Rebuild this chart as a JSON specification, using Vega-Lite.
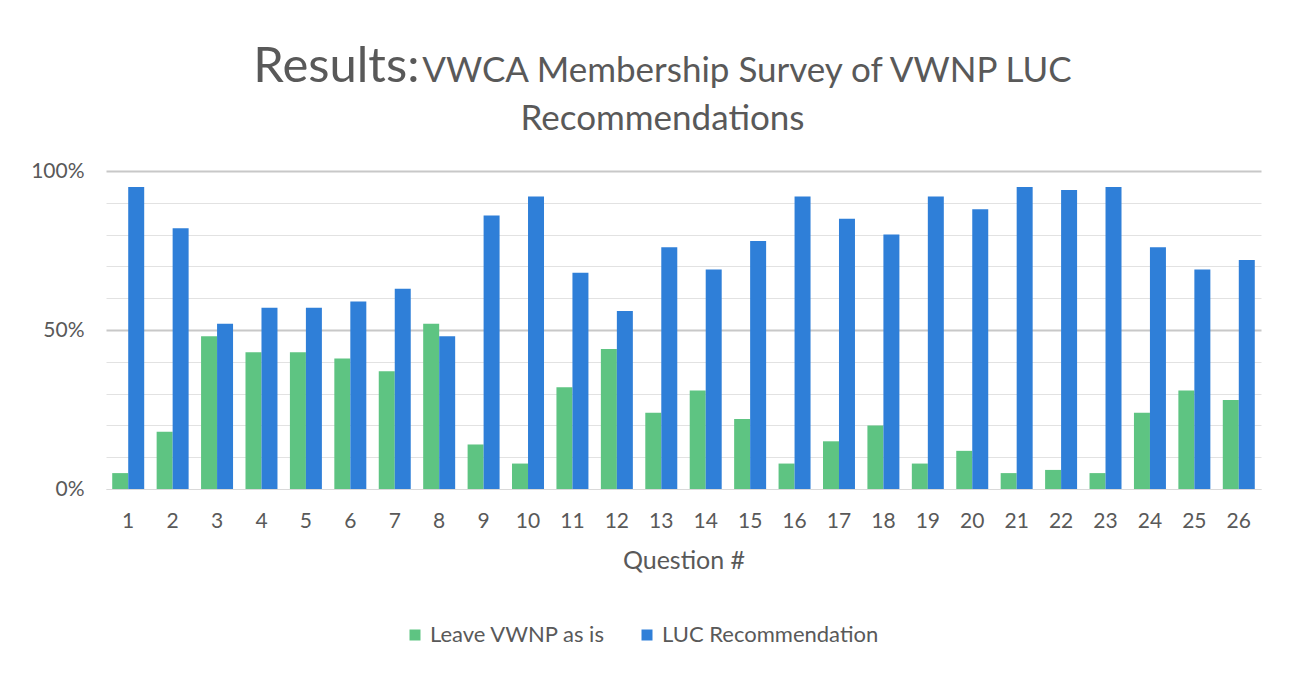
{
  "$schema": "https://vega.github.io/schema/vega-lite/v6.json",
  "autosize": "none",
  "width": 1155,
  "height": 318,
  "padding": {"left": 106, "top": 171, "right": 31, "bottom": 184},
  "background": "white",
  "title": {
    "text": "Results:\u00a0\u00a0\u00a0\u00a0\u00a0\u00a0\u00a0\u00a0\u00a0\u00a0\u00a0\u00a0\u00a0\u00a0\u00a0\u00a0\u00a0\u00a0\u00a0\u00a0\u00a0\u00a0\u00a0\u00a0\u00a0\u00a0\u00a0\u00a0\u00a0\u00a0\u00a0\u00a0\u00a0\u00a0\u00a0\u00a0\u00a0\u00a0\u00a0\u00a0\u00a0\u00a0\u00a0\u00a0\u00a0\u00a0\u00a0\u00a0\u00a0\u00a0\u00a0\u00a0\u200b",
    "subtitle": ["\u200b\u00a0\u00a0\u00a0\u00a0\u00a0\u00a0\u00a0\u00a0\u00a0\u00a0\u00a0\u00a0\u00a0\u00a0\u00a0\u00a0\u00a0\u00a0\u00a0VWCA Membership Survey of VWNP LUC", "Recommendations"],
    "anchor": "middle",
    "dx": -21,
    "font": "Lato",
    "fontSize": 49,
    "fontWeight": "normal",
    "color": "#595959",
    "subtitleFont": "Lato",
    "subtitleFontSize": 35,
    "subtitleColor": "#595959",
    "subtitleLineHeight": 48,
    "subtitlePadding": -38,
    "offset": 23
  },
  "data": {
    "values": [
      {"q": 1, "series": "Leave VWNP as is", "v": 0.05},
      {"q": 2, "series": "Leave VWNP as is", "v": 0.18},
      {"q": 3, "series": "Leave VWNP as is", "v": 0.48},
      {"q": 4, "series": "Leave VWNP as is", "v": 0.43},
      {"q": 5, "series": "Leave VWNP as is", "v": 0.43},
      {"q": 6, "series": "Leave VWNP as is", "v": 0.41},
      {"q": 7, "series": "Leave VWNP as is", "v": 0.37},
      {"q": 8, "series": "Leave VWNP as is", "v": 0.52},
      {"q": 9, "series": "Leave VWNP as is", "v": 0.14},
      {"q": 10, "series": "Leave VWNP as is", "v": 0.08},
      {"q": 11, "series": "Leave VWNP as is", "v": 0.32},
      {"q": 12, "series": "Leave VWNP as is", "v": 0.44},
      {"q": 13, "series": "Leave VWNP as is", "v": 0.24},
      {"q": 14, "series": "Leave VWNP as is", "v": 0.31},
      {"q": 15, "series": "Leave VWNP as is", "v": 0.22},
      {"q": 16, "series": "Leave VWNP as is", "v": 0.08},
      {"q": 17, "series": "Leave VWNP as is", "v": 0.15},
      {"q": 18, "series": "Leave VWNP as is", "v": 0.20},
      {"q": 19, "series": "Leave VWNP as is", "v": 0.08},
      {"q": 20, "series": "Leave VWNP as is", "v": 0.12},
      {"q": 21, "series": "Leave VWNP as is", "v": 0.05},
      {"q": 22, "series": "Leave VWNP as is", "v": 0.06},
      {"q": 23, "series": "Leave VWNP as is", "v": 0.05},
      {"q": 24, "series": "Leave VWNP as is", "v": 0.24},
      {"q": 25, "series": "Leave VWNP as is", "v": 0.31},
      {"q": 26, "series": "Leave VWNP as is", "v": 0.28},
      {"q": 1, "series": "LUC Recommendation", "v": 0.95},
      {"q": 2, "series": "LUC Recommendation", "v": 0.82},
      {"q": 3, "series": "LUC Recommendation", "v": 0.52},
      {"q": 4, "series": "LUC Recommendation", "v": 0.57},
      {"q": 5, "series": "LUC Recommendation", "v": 0.57},
      {"q": 6, "series": "LUC Recommendation", "v": 0.59},
      {"q": 7, "series": "LUC Recommendation", "v": 0.63},
      {"q": 8, "series": "LUC Recommendation", "v": 0.48},
      {"q": 9, "series": "LUC Recommendation", "v": 0.86},
      {"q": 10, "series": "LUC Recommendation", "v": 0.92},
      {"q": 11, "series": "LUC Recommendation", "v": 0.68},
      {"q": 12, "series": "LUC Recommendation", "v": 0.56},
      {"q": 13, "series": "LUC Recommendation", "v": 0.76},
      {"q": 14, "series": "LUC Recommendation", "v": 0.69},
      {"q": 15, "series": "LUC Recommendation", "v": 0.78},
      {"q": 16, "series": "LUC Recommendation", "v": 0.92},
      {"q": 17, "series": "LUC Recommendation", "v": 0.85},
      {"q": 18, "series": "LUC Recommendation", "v": 0.80},
      {"q": 19, "series": "LUC Recommendation", "v": 0.92},
      {"q": 20, "series": "LUC Recommendation", "v": 0.88},
      {"q": 21, "series": "LUC Recommendation", "v": 0.95},
      {"q": 22, "series": "LUC Recommendation", "v": 0.94},
      {"q": 23, "series": "LUC Recommendation", "v": 0.95},
      {"q": 24, "series": "LUC Recommendation", "v": 0.76},
      {"q": 25, "series": "LUC Recommendation", "v": 0.69},
      {"q": 26, "series": "LUC Recommendation", "v": 0.72}
    ]
  },
  "mark": {"type": "bar"},
  "encoding": {
    "x": {
      "field": "q",
      "type": "ordinal",
      "title": "Question #",
      "scale": {"paddingInner": 0.28, "paddingOuter": 0.14},
      "axis": {
        "labelAngle": 0,
        "labelFont": "Lato",
        "labelFontSize": 21,
        "labelColor": "#595959",
        "labelPadding": 21,
        "ticks": false,
        "tickSize": 0,
        "domain": true,
        "domainColor": "#d9d9d9",
        "domainWidth": 1,
        "titleFont": "Lato",
        "titleFontSize": 25,
        "titleFontWeight": "normal",
        "titleColor": "#595959",
        "titlePadding": 17
      }
    },
    "xOffset": {
      "field": "series",
      "type": "nominal",
      "sort": ["Leave VWNP as is", "LUC Recommendation"],
      "scale": {"paddingInner": 0, "paddingOuter": 0}
    },
    "y": {
      "field": "v",
      "type": "quantitative",
      "title": null,
      "scale": {"domain": [0, 1], "nice": false},
      "axis": {
        "values": [0, 0.1, 0.2, 0.3, 0.4, 0.5, 0.6, 0.7, 0.8, 0.9, 1],
        "format": ".0%",
        "labelExpr": "datum.value == 0 || datum.value == 0.5 || datum.value == 1 ? datum.label : ''",
        "labelFont": "Lato",
        "labelFontSize": 21,
        "labelColor": "#595959",
        "labelPadding": 22,
        "ticks": false,
        "tickSize": 0,
        "domain": false,
        "grid": true,
        "gridColor": {"condition": {"test": "datum.value == 0.5 || datum.value == 1", "value": "#c8c8c8"}, "value": "#e2e2e2"},
        "gridWidth": {"condition": {"test": "datum.value == 0.5 || datum.value == 1", "value": 2}, "value": 1}
      }
    },
    "color": {
      "field": "series",
      "type": "nominal",
      "sort": ["Leave VWNP as is", "LUC Recommendation"],
      "scale": {"domain": ["Leave VWNP as is", "LUC Recommendation"], "range": ["#5ec482", "#2f7fd8"]},
      "legend": {
        "title": null,
        "orient": "none",
        "legendX": 298,
        "legendY": 453,
        "direction": "horizontal",
        "symbolType": "square",
        "symbolSize": 121,
        "symbolStrokeWidth": 0,
        "labelFont": "Lato",
        "labelFontSize": 22,
        "labelColor": "#595959",
        "labelOffset": 4,
        "labelLimit": 400,
        "columnPadding": 30
      }
    }
  },
  "config": {
    "view": {"stroke": null}
  }
}
